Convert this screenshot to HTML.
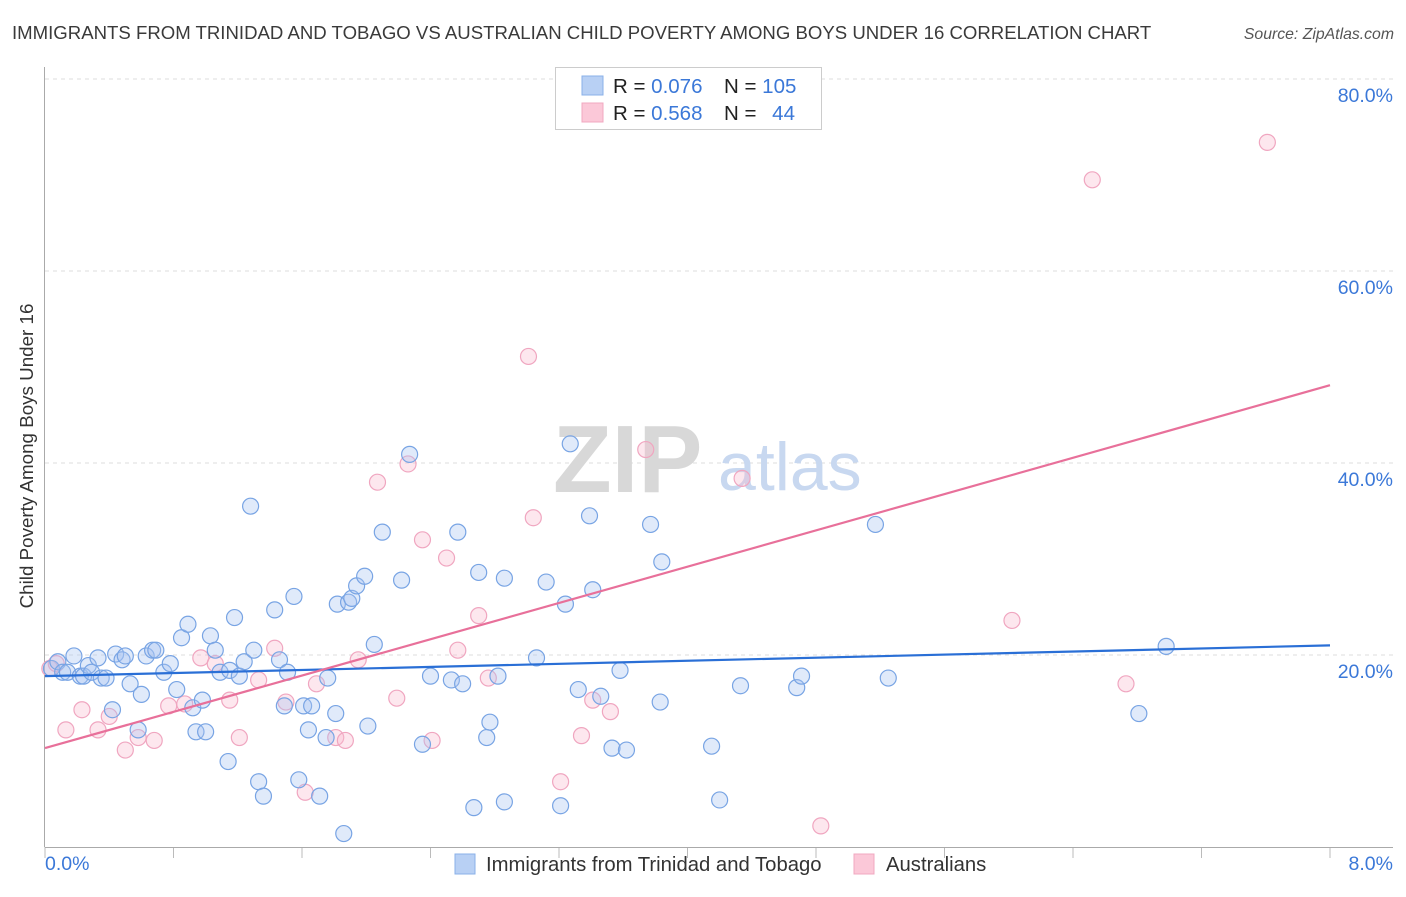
<!DOCTYPE html>
<html><head><meta charset="utf-8"><style>
body{margin:0;background:#fff;font-family:"Liberation Sans",sans-serif;}
svg text{font-family:"Liberation Sans",sans-serif;}
</style></head><body>
<svg id="chart" width="1406" height="892" viewBox="0 0 1406 892" xmlns="http://www.w3.org/2000/svg">
<text x="12" y="39" font-size="18.6" fill="#3a3a3a">IMMIGRANTS FROM TRINIDAD AND TOBAGO VS AUSTRALIAN CHILD POVERTY AMONG BOYS UNDER 16 CORRELATION CHART</text>
<text x="1394" y="39" font-size="15.8" fill="#555" font-style="italic" text-anchor="end">Source: ZipAtlas.com</text>
<g id="grid"></g>
<g>
<text x="553" y="492" font-size="96" font-family="Liberation Serif" fill="#d8d8d8" font-weight="bold">ZIP</text>
<text x="718" y="490" font-size="68" fill="#c8d8f0">atlas</text>
</g>
<line x1="44.5" y1="67" x2="44.5" y2="847" stroke="#aaa"/>
<line x1="45" y1="847.5" x2="1393" y2="847.5" stroke="#aaa"/>
<g id="pts"></g>
<g id="lines"></g>
<text transform="translate(33,456) rotate(-90)" font-size="18.8" fill="#333" text-anchor="middle">Child Poverty Among Boys Under 16</text>
<text x="45" y="870" font-size="19.5" fill="#3b78d8">0.0%</text>
<text x="1393" y="870" font-size="19.5" fill="#3b78d8" text-anchor="end">8.0%</text>
<g>
<rect x="555.5" y="67.5" width="266" height="62" fill="#fff" stroke="#ccc"/>
<rect x="582" y="76" width="21" height="19" fill="#b8d0f4" stroke="#8ab0e8"/>
<rect x="582" y="103" width="21" height="19" fill="#fbc8d8" stroke="#f0a8c0"/>
<text x="613" y="93" font-size="20.5" fill="#222">R = <tspan fill="#3b78d8">0.076</tspan></text>
<text x="724" y="93" font-size="20.5" fill="#222">N = <tspan fill="#3b78d8">105</tspan></text>
<text x="613" y="120" font-size="20.5" fill="#222">R = <tspan fill="#3b78d8">0.568</tspan></text>
<text x="724" y="120" font-size="20.5" fill="#222">N = <tspan fill="#3b78d8" dx="10">44</tspan></text>
</g>
<g>
<rect x="455" y="854" width="20" height="20" fill="#b8d0f4" stroke="#8ab0e8"/>
<text x="486" y="871" font-size="20.3" fill="#333">Immigrants from Trinidad and Tobago</text>
<rect x="854" y="854" width="20" height="20" fill="#fbc8d8" stroke="#f0a8c0"/>
<text x="886" y="871" font-size="20.3" fill="#333">Australians</text>
</g>
</svg>
<script>
const yTicks=[20,40,60,80];
const yTickLabels=["20.0%","40.0%","60.0%","80.0%"];
const xTicks=[0,0.8,1.6,2.4,3.2,4.0,4.8,5.6,6.4,7.2,8.0];
const blueX=[.04,.08,.11,.14,.18,.22,.24,.27,.29,.33,.35,.38,.42,.44,.48,.50,.53,.58,.60,.63,.67,.69,.74,.78,.82,.85,.89,.92,.94,.98,1.00,1.03,1.06,1.09,1.14,1.15,1.18,1.21,1.24,1.28,1.30,1.33,1.36,1.43,1.46,1.49,1.51,1.55,1.58,1.61,1.64,1.66,1.71,1.75,1.76,1.81,1.82,1.86,1.89,1.91,1.94,1.99,2.01,2.05,2.10,2.22,2.27,2.35,2.40,2.53,2.57,2.60,2.67,2.70,2.75,2.77,2.82,2.86,2.86,3.06,3.12,3.21,3.24,3.27,3.32,3.39,3.41,3.46,3.53,3.58,3.62,3.77,3.83,3.84,4.15,4.20,4.33,4.68,4.71,5.17,5.25,6.81,6.98];
const blueY=[18.6,19.3,18.2,18.2,19.9,17.8,17.8,18.9,18.2,19.7,17.6,17.6,14.3,20.1,19.5,19.9,17.0,12.2,15.9,19.9,20.5,20.5,18.2,19.1,16.4,21.8,23.2,14.5,12.0,15.3,12.0,22.0,20.5,18.2,8.9,18.4,23.9,17.8,19.3,35.5,20.5,6.8,5.3,24.7,19.5,14.7,18.2,26.1,7.0,14.7,12.2,14.7,5.3,11.4,17.6,13.9,25.3,1.4,25.5,25.9,27.2,28.2,12.6,21.1,32.8,27.8,40.9,10.7,17.8,17.4,32.8,17.0,4.1,28.6,11.4,13.0,17.8,4.7,28.0,19.7,27.6,4.3,25.3,42.0,16.4,34.5,26.8,15.7,10.3,18.4,10.1,33.6,15.1,29.7,10.5,4.9,16.8,16.6,17.8,33.6,17.6,13.9,20.9];
const pinkX=[.03,.07,.13,.23,.33,.40,.50,.58,.68,.77,.87,.97,1.06,1.15,1.21,1.33,1.43,1.50,1.62,1.69,1.81,1.87,1.95,2.07,2.19,2.26,2.35,2.41,2.50,2.57,2.70,2.76,3.01,3.04,3.21,3.34,3.41,3.52,3.74,4.34,4.83,6.02,6.52,6.73,7.61];
const pinkY=[18.6,19.1,12.2,14.3,12.2,13.6,10.1,11.4,11.1,14.7,14.9,19.7,19.1,15.3,11.4,17.4,20.7,15.1,5.7,17.0,11.4,11.1,19.5,38.0,15.5,39.9,32.0,11.1,30.1,20.5,24.1,17.6,51.1,34.3,6.8,11.6,15.3,14.1,41.4,38.4,2.2,23.6,69.5,17.0,73.4];
const blueLine=[17.8,21.0];
const pinkLine=[10.3,48.1];
const NS="http://www.w3.org/2000/svg";
const sx=v=>45+v/8*1285;
const sy=v=>847-v*9.6;
function mk(tag,attrs,parent){const e=document.createElementNS(NS,tag);for(const k in attrs)e.setAttribute(k,attrs[k]);parent.appendChild(e);return e;}
const grid=document.getElementById('grid');
yTicks.forEach((t,i)=>{
 const l=mk('line',{x1:45,x2:1393,y1:sy(t),y2:sy(t),stroke:'#ddd','stroke-dasharray':'4,4'},grid);
 
 
 const tx=mk('text',{x:1393,y:sy(t)+23,'font-size':19.5,fill:'#3b78d8','text-anchor':'end'},grid);
 tx.textContent=yTickLabels[i];
 
 
});
xTicks.forEach(t=>{
 const l=mk('line',{x1:sx(t),x2:sx(t),y1:847,y2:858,stroke:'#bbb'},grid);
 
 
});
const pts=document.getElementById('pts');
pinkX.forEach((x,i)=>{
 const c=mk('circle',{cx:sx(x),cy:sy(pinkY[i]),r:8,fill:'rgba(248,185,205,0.35)',stroke:'#f0a6c0','stroke-width':1.2},pts);
 
 
});
blueX.forEach((x,i)=>{
 const c=mk('circle',{cx:sx(x),cy:sy(blueY[i]),r:8,fill:'rgba(165,195,240,0.35)',stroke:'#78a4e4','stroke-width':1.2},pts);
 
 
});
const lines=document.getElementById('lines');
const bl=mk('line',{x1:sx(0),y1:sy(blueLine[0]),x2:sx(8),y2:sy(blueLine[1]),stroke:'#2a6fd6','stroke-width':2.2},lines);


const pl=mk('line',{x1:sx(0),y1:sy(pinkLine[0]),x2:sx(8),y2:sy(pinkLine[1]),stroke:'#e8709a','stroke-width':2.2},lines);


</script>
</body></html>
